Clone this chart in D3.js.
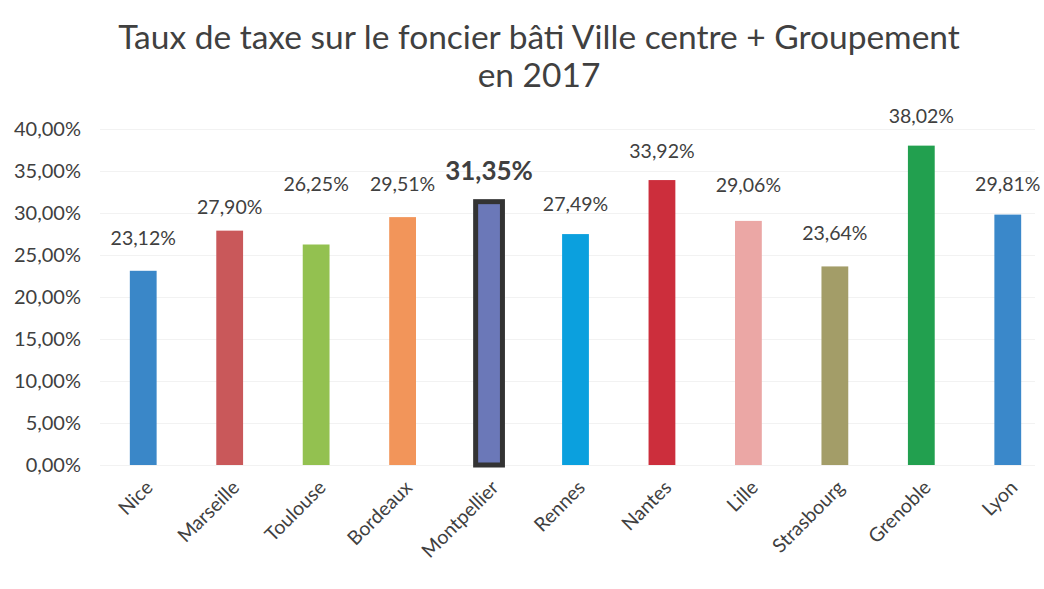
<!DOCTYPE html>
<html>
<head>
<meta charset="utf-8">
<script src="https://cdnjs.cloudflare.com/ajax/libs/d3/7.8.5/d3.min.js"></script>
<style>
  body { margin: 0; background: #fff; }
  svg text { font-family: Lato, "Open Sans", sans-serif; fill: #404040; }
</style>
</head>
<body>
<svg id="chart" width="1044" height="589"></svg>
<script>
// data
var villes = ["Nice", "Marseille", "Toulouse", "Bordeaux", "Montpellier", "Rennes",
              "Nantes", "Lille", "Strasbourg", "Grenoble", "Lyon"];
var taux = [23.12, 27.90, 26.25, 29.51, 31.35, 27.49, 33.92, 29.06, 23.64, 38.02, 29.81];
var yTicks = [0, 5, 10, 15, 20, 25, 30, 35, 40];
var titre = ["Taux de taxe sur le foncier bâti Ville centre + Groupement", "en 2017"];
var mise = "Montpellier";

(function(){
    var svg = d3.select("#chart");

    var couleurs = ["#3a87c8", "#c9585a", "#93c150", "#f2955a", "#6b78b8", "#0ba0de",
                    "#cc2e3c", "#eba7a5", "#a39d68", "#22a04f", "#3a88ca"];
    // labels were nudged by hand in the original, distance above the bar top
    var labelLift = [26, 17, 54, 26, 22, 23, 22, 29, 26, 23, 24];

    var x = d3.scaleBand().domain(villes).range([100, 1051])
        .paddingInner(0.69).paddingOuter(0.345);
    var y = d3.scaleLinear().domain([0, 40]).range([465, 129]);

    var fmt = function (v) { return v.toFixed(2).replace(".", ",") + "%"; };

    // title
    svg.selectAll(".titre").data(titre).enter().append("text")
        .attr("class", "titre")
        .attr("x", 539)
        .attr("y", function (d, i) { return 49 + i * 38; })
        .attr("text-anchor", "middle")
        .style("font-size", "33.5px")
        .text(function (d) { return d; });

    // faint gridlines
    svg.append("g")
        .attr("transform", "translate(100,0)")
        .call(d3.axisLeft(y).tickValues(yTicks).tickSize(-935).tickFormat(""))
        .call(function (g) {
            g.select(".domain").remove();
            g.selectAll("line").attr("stroke", "#f2f2f2");
        });

    // y axis labels
    svg.append("g")
        .attr("transform", "translate(81,0)")
        .call(d3.axisLeft(y).tickValues(yTicks).tickSize(0).tickPadding(0)
            .tickFormat(function (d) { return d.toFixed(2).replace(".", ",") + "%"; }))
        .call(function (g) {
            g.select(".domain").remove();
            g.selectAll("text").style("font-size", "20px").attr("fill", "#404040");
        });

    // bars
    svg.selectAll(".bar").data(villes).enter().append("rect")
        .attr("class", "bar")
        .attr("x", function (d) { return x(d); })
        .attr("width", x.bandwidth())
        .attr("y", function (d, i) { return y(taux[i]); })
        .attr("height", function (d, i) { return y(0) - y(taux[i]); })
        .attr("fill", function (d, i) { return couleurs[i]; })
        .attr("stroke", function (d) { return d === mise ? "#333" : "none"; })
        .attr("stroke-width", function (d) { return d === mise ? 5 : 0; });

    // value labels
    svg.selectAll(".val").data(villes).enter().append("text")
        .attr("class", "val")
        .attr("x", function (d) { return x(d) + x.bandwidth() / 2; })
        .attr("y", function (d, i) { return y(taux[i]) - labelLift[i]; })
        .attr("text-anchor", "middle")
        .style("font-size", function (d) { return d === mise ? "26px" : "19.5px"; })
        .style("font-weight", function (d) { return d === mise ? "bold" : "normal"; })
        .text(function (d, i) { return fmt(taux[i]); });

    // x axis labels
    svg.append("g")
        .attr("transform", "translate(0,470)")
        .call(d3.axisBottom(x).tickSize(0).tickPadding(0))
        .call(function (g) {
            g.select(".domain").remove();
            g.selectAll("text")
                .style("font-size", "19.5px")
                .attr("fill", "#404040")
                .attr("text-anchor", "end")
                .attr("dy", "0.35em")
                .attr("transform", "translate(6,14) rotate(-45)");
        });
})();
</script>
</body>
</html>
